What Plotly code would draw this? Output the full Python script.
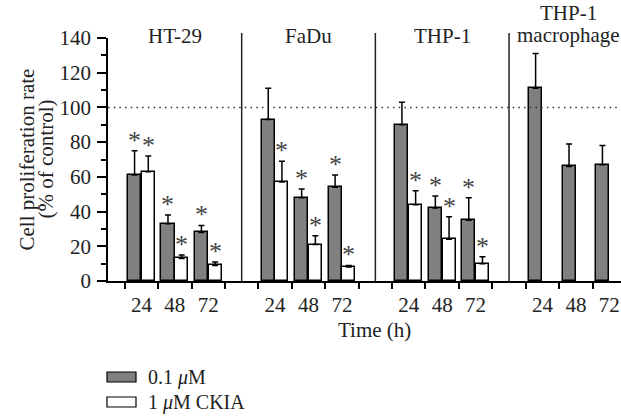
import plotly.graph_objects as go

groups = ["HT-29", "FaDu", "THP-1", "THP-1<br>macrophage"]
times = ["24", "48", "72"]

# 0.1 uM (dark bars), per group, per time
low_vals = [[61, 33, 28], [93, 48, 54], [90, 42, 35], [111, 66, 67]]
low_err = [[14, 5, 4], [18, 5, 7], [13, 7, 13], [20, 13, 11]]
low_sig = [[1, 1, 1], [0, 1, 1], [0, 1, 1], [0, 0, 0]]

# 1 uM CKIA (white bars)
high_vals = [[63, 13, 9], [57, 21, 8], [44, 24, 10], [None, None, None]]
high_err = [[9, 2, 2], [12, 5, 1], [8, 13, 4], [None, None, None]]
high_sig = [[1, 1, 1], [1, 1, 1], [1, 1, 1], [0, 0, 0]]

legend_names = ["0.1 <i>μ</i>M", "1 <i>μ</i>M CKIA"]

FONT = "Liberation Serif"
FS = 21
TXT = "#222"
W, H = 621, 418
ML, MR, MT, MB = 108, 0, 38, 137
XR = [-0.5, 14.85]
YR = [0, 140]
PW = W - ML - MR
PH = H - MT - MB


def px(xp):
    return (xp - ML) / PW


def py(yp):
    return (H - MB - yp) / PH


def xpaper(xd):
    return (xd - XR[0]) / (XR[1] - XR[0])


def label(x, y, text, size=FS, **kw):
    d = dict(x=x, y=y, xref="paper", yref="paper", text=text, showarrow=False,
             xanchor="center", yanchor="middle", borderpad=0,
             font=dict(family=FONT, size=size, color=TXT))
    d.update(kw)
    return d


centers, labels = [], []
lx, ly, le, hx, hy, he = [], [], [], [], [], []
ann = []
for g in range(len(groups)):
    for t in range(len(times)):
        c = 4 * g + t + 0.5
        centers.append(c)
        labels.append(times[t])
        if low_vals[g][t] is not None:
            lx.append(c); ly.append(low_vals[g][t]); le.append(low_err[g][t])
            if low_sig[g][t]:
                ann.append(dict(x=c - 0.205, y=low_vals[g][t] + low_err[g][t]))
        if high_vals[g][t] is not None:
            hx.append(c); hy.append(high_vals[g][t]); he.append(high_err[g][t])
            if high_sig[g][t]:
                ann.append(dict(x=c + 0.205, y=high_vals[g][t] + high_err[g][t]))

fig = go.Figure()
fig.add_trace(go.Bar(
    x=lx, y=ly, offset=-0.4, width=0.39, name=legend_names[0],
    marker=dict(color="#808080", line=dict(color="black", width=1.5)),
    error_y=dict(type="data", array=le, arrayminus=[0] * len(le), symmetric=False,
                 thickness=1.5, width=3, color="black"),
    showlegend=False))
fig.add_trace(go.Bar(
    x=hx, y=hy, offset=0.01, width=0.39, name=legend_names[1],
    marker=dict(color="white", line=dict(color="black", width=1.5)),
    error_y=dict(type="data", array=he, arrayminus=[0] * len(he), symmetric=False,
                 thickness=1.5, width=3, color="black"),
    showlegend=False))

annotations = []
for a in ann:
    annotations.append(dict(x=a["x"], y=a["y"], xref="x", yref="y", text="*",
                            showarrow=False, xanchor="center", yanchor="bottom", yshift=-6,
                            font=dict(family=FONT, size=26, color="#444")))

# group labels
for g, name in enumerate(groups):
    xc = xpaper(4 * g + 1.5)
    if "<br>" in name:
        top, bot = name.split("<br>")
        annotations.append(label(px(568), py(13), top))
        annotations.append(label(px(568), py(35), bot))
    else:
        annotations.append(label(xc, py(36), name))

# axis titles
annotations.append(label(px(26), py(159.5), "Cell proliferation rate", textangle=-90))
annotations.append(label(px(45), py(159.5), "(% of control)", textangle=-90))
annotations.append(label(px(374), py(330), "Time (h)"))

# legend
shapes = []
legend_colors = ["#808080", "white"]
for i, nm in enumerate(legend_names):
    y0 = 372 + i * 25
    shapes.append(dict(type="rect", xref="paper", yref="paper",
                       x0=px(107), x1=px(136), y0=py(y0), y1=py(y0 + 10),
                       fillcolor=legend_colors[i], line=dict(color="black", width=1.2)))
    annotations.append(label(px(147), py(y0 + 5), nm, size=20, xanchor="left"))

# separators
for g in range(1, len(groups)):
    xs = xpaper(4 * g - 0.5)
    shapes.append(dict(type="line", xref="paper", yref="paper", x0=xs, x1=xs,
                       y0=0, y1=py(33), line=dict(color="#222", width=1.5)))

# 100% reference line
shapes.append(dict(type="line", xref="paper", yref="y", x0=0, x1=1, y0=100, y1=100,
                   line=dict(color="#333", width=1.5, dash="1.5px,4.2px")))

fig.update_layout(
    width=W, height=H, margin=dict(l=ML, r=MR, t=MT, b=MB, autoexpand=False),
    paper_bgcolor="white", plot_bgcolor="white",
    barmode="overlay", bargap=0,
    font=dict(family=FONT, size=FS, color=TXT),
    shapes=shapes, annotations=annotations,
    xaxis=dict(range=XR, tickmode="array", tickvals=centers, ticktext=labels,
               ticks="", showline=True, linecolor="black", linewidth=1.5,
               showgrid=False, zeroline=False, ticklabelstandoff=4, automargin=False,
               minor=dict(tickmode="array", tickvals=list(range(16)), ticks="outside",
                          ticklen=6, tickwidth=1.5, tickcolor="black", showgrid=False),
               tickfont=dict(family=FONT, size=FS, color=TXT)),
    yaxis=dict(range=YR, tickmode="linear", tick0=0, dtick=20, ticks="outside",
               ticklen=9, tickwidth=1.5, tickcolor="black", showline=True,
               linecolor="black", linewidth=1.5, showgrid=False, zeroline=False,
               automargin=False, ticklabelstandoff=2,
               minor=dict(dtick=10, ticks="outside", ticklen=5, tickwidth=1.5,
                          tickcolor="black", showgrid=False),
               tickfont=dict(family=FONT, size=FS, color=TXT)),
)

fig.write_html("out.html", config={"displayModeBar": False},
               post_script="document.body.style.margin='0';document.body.style.padding='0';")
